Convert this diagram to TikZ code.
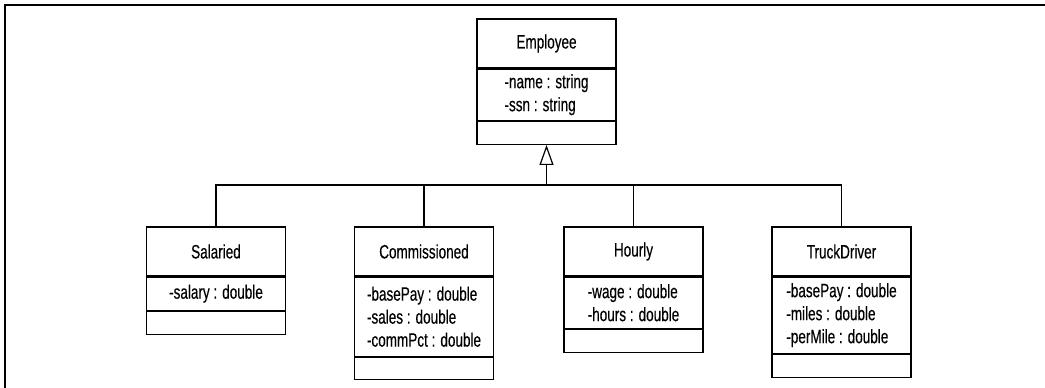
\documentclass[tikz,border=0pt]{standalone}
\usepackage{fontspec}
\newfontfamily\umlfont{Liberation Sans}[FakeStretch=0.7, FakeBold=0.3]
\usetikzlibrary{positioning,arrows.meta}
\tikzset{
	umlbox/.style={draw, line width=0.9pt, inner sep=0pt, minimum width=104.25pt, align=left, font=\umlfont\fontsize{14.5}{17.25}\selectfont},
	umltitle/.style={umlbox, minimum height=36.75pt},
	umlgen/.style={line width=0.9pt, -{Triangle[open, width=10.5pt, length=15pt]}}
}
\begin{document}
\begin{tikzpicture}[x=0.75pt, y=-0.75pt]
		\useasboundingbox ( 0, 0 ) rectangle ( 1045, 388 );
		% рамка
		\draw [line width=0.9pt] ( 1045, 5 ) -- ( 5, 5 ) -- ( 5, 388 );

		% Employee
		\node [umltitle] (emp) at ( 546.5, 43.5 ) {Employee};
		\node [umlbox, below=0pt of emp, minimum height=38.25pt] (empA) {-name : string\\-ssn : string};
		\node [umlbox, below=0pt of empA, minimum height=17.25pt] (empO) {};

		% Salaried
		\node [umltitle] (sal) at ( 216, 251.5 ) {Salaried};
		\node [umlbox, below=0pt of sal, minimum height=24.75pt] (salA) {-salary : double};
		\node [umlbox, below=0pt of salA, minimum height=17.25pt] (salO) {};

		% Commissioned
		\node [umltitle] (com) at ( 424, 251.5 ) {Commissioned};
		\node [umlbox, below=0pt of com, minimum height=59.25pt] (comA) {-basePay : double\\-sales : double\\-commPct : double};
		\node [umlbox, below=0pt of comA, minimum height=16.5pt] (comO) {};

		% Hourly
		\node [umltitle] (hour) at ( 633.5, 251.5 ) {Hourly};
		\node [umlbox, below=0pt of hour, minimum height=38.25pt] (hourA) {-wage : double\\-hours : double};
		\node [umlbox, below=0pt of hourA, minimum height=17.25pt] (hourO) {};

		% TruckDriver
		\node [umltitle] (truck) at ( 841.5, 251.5 ) {TruckDriver};
		\node [umlbox, below=0pt of truck, minimum height=57pt] (truckA) {-basePay : double\\-miles : double\\-perMile : double};
		\node [umlbox, below=0pt of truckA, minimum height=17.25pt] (truckO) {};

		% наследование
		\coordinate (bus) at ( 546.5, 185 );
		\draw [line width=0.9pt] (sal.north) |- (bus) -| (truck.north);
		\draw [line width=0.9pt] (com.north) -- (com.north |- bus);
		\draw [line width=0.9pt] (hour.north) -- (hour.north |- bus);
		\draw [umlgen] (bus) -- (empO.south);
	\end{tikzpicture}
\end{document}
